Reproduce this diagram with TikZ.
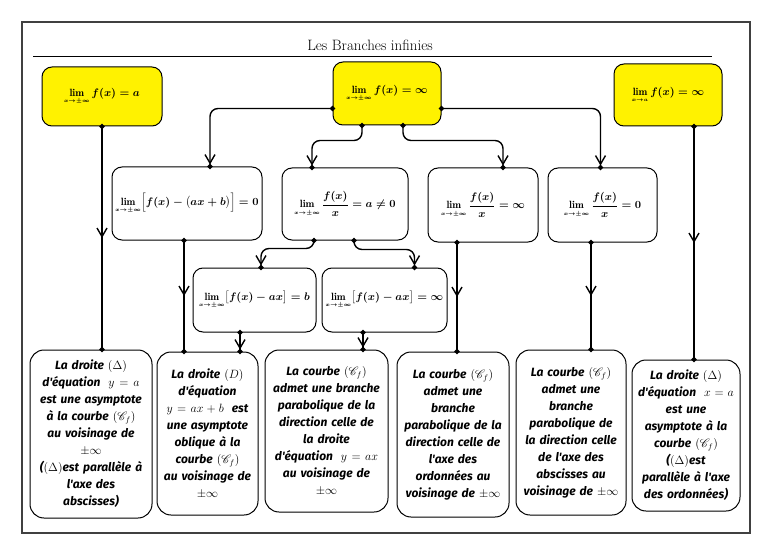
\documentclass[tikz,border=0pt]{standalone}
\usepackage{amsmath}
\usepackage{amssymb}
\usepackage{mathrsfs}
\usepackage{fontspec}
\newfontfamily\boxfont{Fira Sans}
\usetikzlibrary{arrows.meta,decorations.markings}

\begin{document}
\begin{tikzpicture}[x=1pt,y=-1pt,
    limbox/.style ={draw, line width=1pt, rounded corners=10pt, fill=yellow, inner sep=2pt,
                    font=\fontsize{10.5}{12}\selectfont\boldmath},
    condbox/.style={draw, line width=1pt, rounded corners=10pt, fill=white, inner sep=2pt,
                    font=\fontsize{10.5}{12}\selectfont\boldmath},
    resbox/.style ={draw, line width=1pt, rounded corners=14pt, fill=white, align=center, inner sep=2pt,
                    font=\boxfont\bfseries\itshape\fontsize{12}{17}\selectfont},
    link/.style   ={line width=1.4pt, rounded corners=8pt,
                    {Circle[length=5pt]}-{Circle[length=5pt]}, shorten <=-2.5pt, shorten >=-2.5pt},
    midarrow/.style={postaction={decorate}, decoration={markings,
                    mark=at position 0.5 with {\arrow{Straight Barb[length=3mm,width=3.5mm]}}}},
    endarrow/.style={postaction={decorate}, decoration={markings,
                    mark=at position -2pt with {\arrow{Straight Barb[length=3mm,width=3.5mm]}}}}]
   \useasboundingbox (0,0) rectangle (768,556);
   \draw[line width=1.5pt, black!75] (22,22) rectangle (750,533);

   \node (title) at (370,45) {\fontsize{15}{17}\selectfont Les Branches infinies};
   \draw[line width=1pt] (33,57) -- (712,57);

   % les limites en haut
   \node[limbox, minimum width=120, minimum height=59] (Y1) at (102,96.5)
      {$\lim\limits_{\scriptscriptstyle x\to\pm\infty} f(x)=a$};
   \node[limbox, minimum width=108, minimum height=63] (Y2) at (387,93.5)
      {$\lim\limits_{\scriptscriptstyle x\to\pm\infty} f(x)=\infty$};
   \node[limbox, minimum width=108, minimum height=62] (Y3) at (668,95)
      {$\lim\limits_{\scriptscriptstyle x\to a} f(x)=\infty$};

   % deuxieme ligne
   \node[condbox, minimum width=150, minimum height=73] (B1) at (187,203.5)
      {$\lim\limits_{\scriptscriptstyle x\to\pm\infty}\Bigl[f(x)-\bigl(ax+b\bigr)\Bigr]=0$};
   \node[condbox, minimum width=126, minimum height=72] (B2) at (345,204)
      {$\lim\limits_{\scriptscriptstyle x\to\pm\infty}\dfrac{f(x)}{x}=a\neq0$};
   \node[condbox, minimum width=110, minimum height=74] (B3) at (483,205)
      {$\lim\limits_{\scriptscriptstyle x\to\pm\infty}\dfrac{f(x)}{x}=\infty$};
   \node[condbox, minimum width=109, minimum height=74] (B4) at (602.5,205)
      {$\lim\limits_{\scriptscriptstyle x\to\pm\infty}\dfrac{f(x)}{x}=0$};

   \node[condbox, minimum width=123, minimum height=64] (C1) at (254.5,300)
      {$\lim\limits_{\scriptscriptstyle x\to\pm\infty}\bigl[f(x)-ax\bigr]=b$};
   \node[condbox, minimum width=125, minimum height=64] (C2) at (384.5,300)
      {$\lim\limits_{\scriptscriptstyle x\to\pm\infty}\bigl[f(x)-ax\bigr]=\infty$};

   % les conclusions
   \node[resbox, minimum width=122, minimum height=168, text width=118] (D1) at (91,434)
      {La droite $(\Delta)$\\ d'équation \ $y=a$\\ est une asymptote\\ à la courbe $(\mathscr{C}_f)$\\
       au voisinage de\\ $\pm\infty$\\ ($(\Delta)$est parallèle à\\ l'axe des\\ abscisses)};
   \node[resbox, minimum width=101, minimum height=163, text width=97] (D2) at (207.5,433.5)
      {La droite $(D)$\\ d'équation\\ $y=ax+b$ \ est\\ une asymptote\\ oblique à la\\
       courbe $(\mathscr{C}_f)$\\ au voisinage de\\ $\pm\infty$};
   \node[resbox, minimum width=123, minimum height=162, text width=119] (D3) at (326.5,431)
      {La courbe $(\mathscr{C}_f)$\\ admet une branche\\ parabolique de la\\ direction celle de\\
       la droite\\ d'équation \ $y=ax$\\ au voisinage de\\ $\pm\infty$};
   \node[resbox, minimum width=112, minimum height=165, text width=108] (D4) at (453,434.5)
      {La courbe $(\mathscr{C}_f)$\\ admet une\\ branche\\ parabolique de la\\ direction celle de\\
       l'axe des\\ ordonnées au\\ voisinage de $\pm\infty$};
   \node[resbox, minimum width=110, minimum height=165, text width=106] (D5) at (571,432.5)
      {La courbe $(\mathscr{C}_f)$\\ admet une\\ branche\\ parabolique de\\ la direction celle\\
       de l'axe des\\ abscisses au\\ voisinage de $\pm\infty$};
   \node[resbox, minimum width=108, minimum height=151, text width=104] (D6) at (686,435.5)
      {La droite $(\Delta)$\\ d'équation \ $x=a$\\ est une\\ asymptote à la\\ courbe $(\mathscr{C}_f)$\\
       ($(\Delta)$est\\ parallèle à l'axe\\ des ordonnées)};

   % les liens
   \draw[link, midarrow] (Y1.south) -- (Y1.south |- D1.north);
   \draw[link, midarrow] ([xshift=26pt]Y3.south) -- ([xshift=26pt]Y3.south |- D6.north);

   \draw[link, endarrow] ([yshift=-15pt]Y2.west) -| ([xshift=23pt]B1.north);
   \draw[link, endarrow] ([yshift=-15pt]Y2.east) -| ([xshift=-2pt]B4.north);
   \draw[link, endarrow] ([xshift=-25pt]Y2.south) -- ++(0,15) -| ([xshift=-33pt]B2.north);
   \draw[link, endarrow] ([xshift=16pt]Y2.south) -- ++(0,15) -| ([xshift=20pt]B3.north);

   \draw[link, midarrow] ([xshift=-3pt]B1.south) -- ([xshift=-3pt]B1.south |- D2.north);
   \draw[link, endarrow] ([xshift=-31pt]B2.south) -- ++(0,8) -| ([xshift=6.5pt]C1.north);
   \draw[link, endarrow] ([xshift=9pt]B2.south) -- ++(0,9) -| ([xshift=30pt]C2.north);
   \draw[link, midarrow] ([xshift=-26pt]B3.south) -- ([xshift=-26pt]B3.south |- D4.north);
   \draw[link, midarrow] ([xshift=-11.5pt]B4.south) -- ([xshift=-11.5pt]B4.south |- D5.north);

   \draw[link, endarrow] ([xshift=-14.5pt]C1.south) -- ([xshift=-14.5pt]C1.south |- D2.north);
   \draw[link, endarrow] ([xshift=-21.5pt]C2.south) -- ([xshift=-21.5pt]C2.south |- D3.north);
 \end{tikzpicture}
\end{document}
